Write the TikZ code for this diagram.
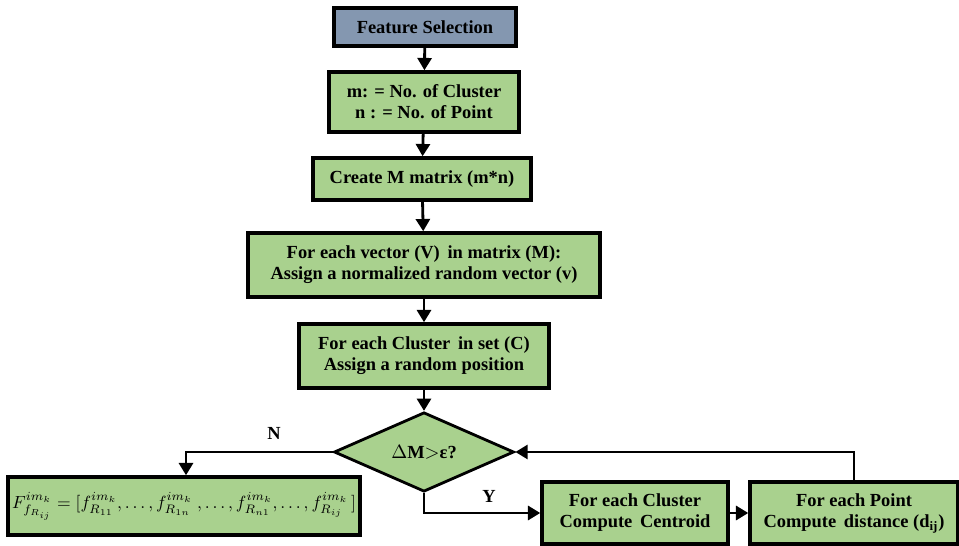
\documentclass[tikz,border=0pt]{standalone}
\usepackage{fontspec}
\setmainfont{Liberation Serif}
\usetikzlibrary{arrows.meta,shapes.geometric}
\definecolor{boxgreen}{HTML}{A9D18E}
\definecolor{boxblue}{HTML}{8497B0}

\begin{document}
\begin{tikzpicture}[x=0.02cm,y=-0.02cm,
    stepbox/.style={draw=black, line width=2pt, fill=boxgreen, font=\bfseries\fontsize{10.5}{12}\selectfont, align=center, inner sep=2pt},
    decision/.style={diamond, draw=black, line width=1.6pt, fill=boxgreen, font=\bfseries\fontsize{10.5}{12}\selectfont, inner sep=0pt, minimum width=3.6cm, minimum height=1.3cm},
    flow/.style={line width=1.6pt, -{Triangle[length=7pt,width=8pt]}},
    tag/.style={font=\bfseries\fontsize{10.5}{12}\selectfont}]
\useasboundingbox (0,0) rectangle (959,546);
                    \node[stepbox, fill=boxblue, minimum width=3.64cm, minimum height=0.76cm] (fsel) at (425,27) {Feature Selection};
                    \node[stepbox, minimum width=3.8cm, minimum height=1.2cm] (defs) at (424,102) {m: = No. of Cluster\\n : = No. of Point};
                    \node[stepbox, minimum width=4.36cm, minimum height=0.84cm] (cmat) at (422,179) {Create M matrix (m*n)};
                    \node[stepbox, minimum width=7.04cm, minimum height=1.28cm] (vecs) at (424,265) {For each vector (V)\, in matrix (M):\\Assign a normalized random vector (v)};
                    \node[stepbox, minimum width=5.0cm, minimum height=1.28cm] (cset) at (424,356) {For each Cluster\, in set (C)\\Assign a random position};
                    \node[decision] (test) at (424,452) {$\Delta$M$>$ε?};
                    \node[stepbox, minimum width=7.04cm, minimum height=1.16cm, font=\fontsize{10}{12}\selectfont] (fvec) at (184,506)
                        {$F_{f_{R_{ij}}}^{im_k} = [f_{R_{11}}^{im_k}, \ldots, f_{R_{1n}}^{im_k}\ , \ldots, f_{R_{n1}}^{im_k}, \ldots, f_{R_{ij}}^{im_k}\,]$};
                    \node[stepbox, minimum width=3.72cm, minimum height=1.24cm] (cent) at (635,513) {For each Cluster\\Compute\, Centroid};
                    \node[stepbox, minimum width=4.16cm, minimum height=1.24cm] (dist) at (854,513) {For each Point\\Compute\, distance (d\textsubscript{ij})};
                    % main column
                    \draw[flow] (fsel) -- (defs);
                    \draw[flow] (defs) -- (cmat);
                    \draw[flow] (cmat) -- (vecs);
                    \draw[flow] (vecs) -- (cset);
                    \draw[flow] (cset) -- (test);
                    % branches
                    \draw[flow] (test.west) -| node[pos=0.2, above=3pt, tag] {N} (fvec.north -| 186,0);
                    \draw[flow] (test.south) |- node[pos=0.78, above=2pt, tag] {Y} (cent.west);
                    \draw[flow] (cent) -- (dist);
                    \draw[flow] (dist.north) |- (test.east);
                \end{tikzpicture}
\end{document}
